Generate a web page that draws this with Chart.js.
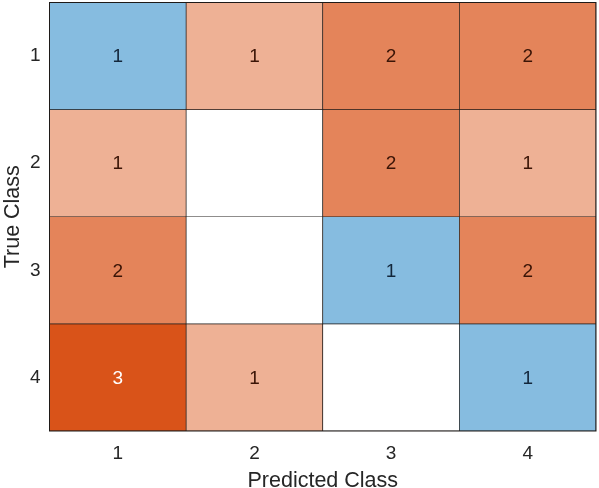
<!DOCTYPE html>
<html>
<head>
<meta charset="utf-8">
<script src="https://cdn.jsdelivr.net/npm/chart.js@4.4.1/dist/chart.umd.min.js"></script>
<style>
  html, body { margin: 0; padding: 0; background: #fff; }
  #wrap { width: 599px; height: 488px; }
</style>
</head>
<body>
<div id="wrap"><canvas id="cm" width="599" height="488"></canvas></div>
<script>
// confusion matrix, rows = true class, columns = predicted class
const predictedClasses = ['1', '2', '3', '4'];
const trueClasses = ['1', '2', '3', '4'];
const countsTrue1 = [1, 1, 2, 2];
const countsTrue2 = [1, 0, 2, 1];
const countsTrue3 = [2, 0, 1, 2];
const countsTrue4 = [3, 1, 0, 1];
const counts = [countsTrue1, countsTrue2, countsTrue3, countsTrue4];

const FONT = "'Liberation Sans', Arial, Helvetica, sans-serif";

// colour shades like the matlab confusionchart
const diagColors = { 1: '#86bce0' };
const offColors = { 1: '#eeb195', 2: '#e4845a', 3: '#d95319' };

function cellColor(r, c) {
  const v = counts[r][c];
  if (v === 0) return '#ffffff';
  return r === c ? diagColors[v] : offColors[v];
}

function textColor(r, c) {
  const v = counts[r][c];
  if (r === c) return '#13263a';
  if (v >= 3) return '#ffffff';
  return '#3a1406';
}

// one floating-bar dataset per true class row
const datasets = trueClasses.map((t, r) => ({
  label: 'True ' + t,
  data: predictedClasses.map(() => [Number(t) - 0.5, Number(t) + 0.5]),
  backgroundColor: predictedClasses.map((p, c) => cellColor(r, c)),
  borderColor: '#1e1a18',
  borderWidth: 0.7,
  borderSkipped: false,
  barPercentage: 1,
  categoryPercentage: 1,
  grouped: false
}));

const cellText = {
  id: 'cellText',
  afterDatasetsDraw(chart) {
    const ctx = chart.ctx;
    ctx.save();
    ctx.font = '19px ' + FONT;
    ctx.textAlign = 'center';
    ctx.textBaseline = 'middle';
    chart.data.datasets.forEach((ds, r) => {
      chart.getDatasetMeta(r).data.forEach((bar, c) => {
        const v = counts[r][c];
        if (!v) return;
        ctx.fillStyle = textColor(r, c);
        ctx.fillText(String(v), bar.x, (bar.y + bar.base) / 2 + 1);
      });
    });
    const a = chart.chartArea;
    ctx.strokeStyle = '#1e1a18';
    ctx.lineWidth = 1;
    ctx.strokeRect(a.left, a.top, a.right - a.left, a.bottom - a.top);
    ctx.restore();
  }
};

new Chart(document.getElementById('cm'), {
  type: 'bar',
  data: { labels: predictedClasses, datasets: datasets },
  options: {
    responsive: false,
    animation: false,
    layout: { padding: { top: 2.5, right: 3, left: 0, bottom: 0 } },
    plugins: { legend: { display: false }, tooltip: { enabled: false } },
    scales: {
      x: {
        type: 'category',
        offset: true,
        grid: { display: false, drawTicks: false },
        border: { display: false },
        ticks: { color: '#262626', padding: 11, font: { family: FONT, size: 19 } },
        title: {
          display: true, text: 'Predicted Class', color: '#262626',
          padding: { top: 0, bottom: 0 },
          font: { family: FONT, size: 21.5, lineHeight: 0.66 }
        },
        afterFit(s) { s.height = 57; s.paddingLeft = 0; s.paddingRight = 0; }
      },
      y: {
        type: 'linear',
        min: 0.5,
        max: 4.5,
        reverse: true,
        grid: { display: false, drawTicks: false },
        border: { display: false },
        afterBuildTicks(s) { s.ticks = trueClasses.map(t => ({ value: Number(t) })); },
        ticks: {
          color: '#262626', padding: 9,
          font: { family: FONT, size: 19 },
          callback: (v) => String(v)
        },
        title: {
          display: true, text: 'True Class', color: '#262626',
          padding: { top: 0, bottom: 0 },
          font: { family: FONT, size: 21.5, lineHeight: 1.2 }
        },
        afterFit(s) { s.width = 49.5; s.paddingTop = 0; s.paddingBottom = 0; }
      }
    }
  },
  plugins: [cellText]
});
</script>
</body>
</html>
